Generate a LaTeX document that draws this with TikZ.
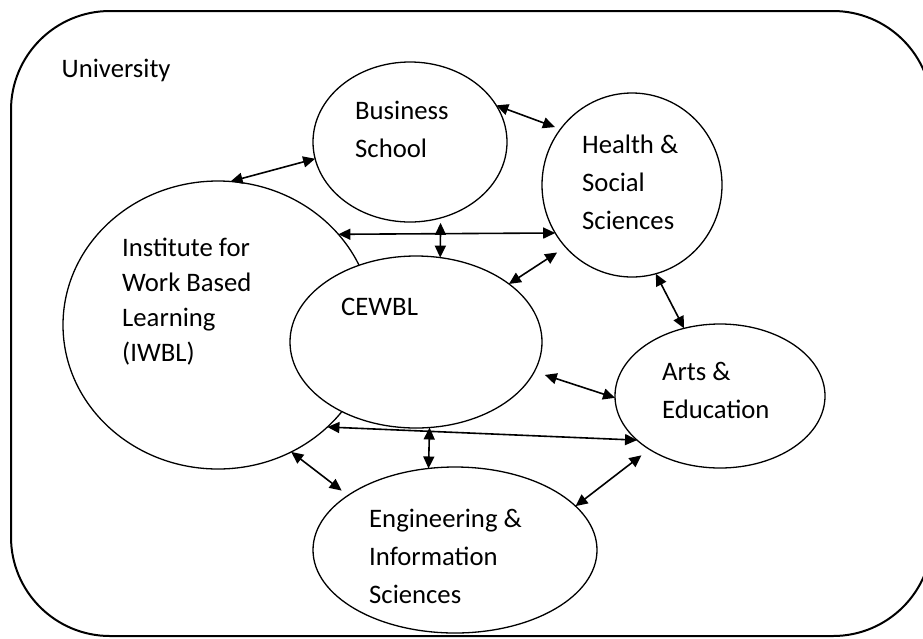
\documentclass[tikz,border=0pt]{standalone}
\usepackage{fontspec}
\setmainfont{Carlito}
\usetikzlibrary{shapes.geometric,arrows.meta}

\begin{document}
\begin{tikzpicture}[x=1pt, y=-1pt,
	font=\fontsize{26.7}{38.4}\selectfont,
	unit/.style = { ellipse, draw=black, line width=1.3pt, fill=white,
	inner sep=0pt, outer sep=0pt },
	lbl/.style = { anchor=base west, align=left, inner sep=0pt },
	link/.style = { {Triangle[length=12pt,width=11pt]}-{Triangle[length=12pt,width=11pt]},
	line width=1.6pt } ]

  \clip (0,0) rectangle (923,638);
  \draw [line width=2pt, rounded corners=99pt] (11,11) rectangle (932,636);

  \node [name=iwbl, unit, minimum width=310pt, minimum height=288pt] at (218,325) {};
  \node [name=cewbl, unit, minimum width=252pt, minimum height=172pt] at (416,342) {};
  \node [name=business, unit, minimum width=194pt, minimum height=160pt] at (410,142) {};
  \node [name=health, unit, minimum width=180pt, minimum height=184pt] at (632,185) {};
  \node [name=arts, unit, minimum width=210pt, minimum height=144pt] at (720,396) {};
  \node [name=eng, unit, minimum width=284pt, minimum height=166pt] at (455,550) {};

  % labels sit on the baseline of their last line
  \node [name=unilbl, lbl] at (61.5,77) {University};
  \node [name=businesslbl, lbl] at (355,157.4) {Business\\School};
  \node [name=healthlbl, lbl] at (582,229.8) {Health \&\\Social\\Sciences};
  \node [name=iwbllbl, lbl, font=\fontsize{26.7}{34.7}\selectfont] at (122,361)
	{Institute for\\Work Based\\Learning\\(IWBL)};
  \node [name=cewbllbl, lbl] at (341,315) {CEWBL};
  \node [name=artslbl, lbl] at (662,418.4) {Arts \&\\Education};
  \node [name=englbl, lbl] at (369,603.8) {Engineering \&\\Information\\Sciences};

  \draw [link] (iwbl.85) -- (business.190);
  \draw [link, shorten >=6pt] (business.23) -- (health.142);
  \draw [link] (iwbl.37.5) -- (health.212);
  \draw [link, shorten <=5pt] (business.-68) -- (cewbl.74);
  \draw [link, shorten >=10pt] (cewbl.32) -- (health.223);
  \draw [link] (health.-75) -- (arts.118);
  \draw [link, shorten <=11pt] (cewbl.-14) -- (arts.181);
  \draw [link] (iwbl.-43) -- (arts.208);
  \draw [link] (cewbl.-81) -- (eng.108);
  \draw [link, shorten >=8pt] (iwbl.-60) -- (eng.153);
  \draw [link, shorten <=10pt] (arts.217) -- (eng.20);
\end{tikzpicture}
\end{document}
